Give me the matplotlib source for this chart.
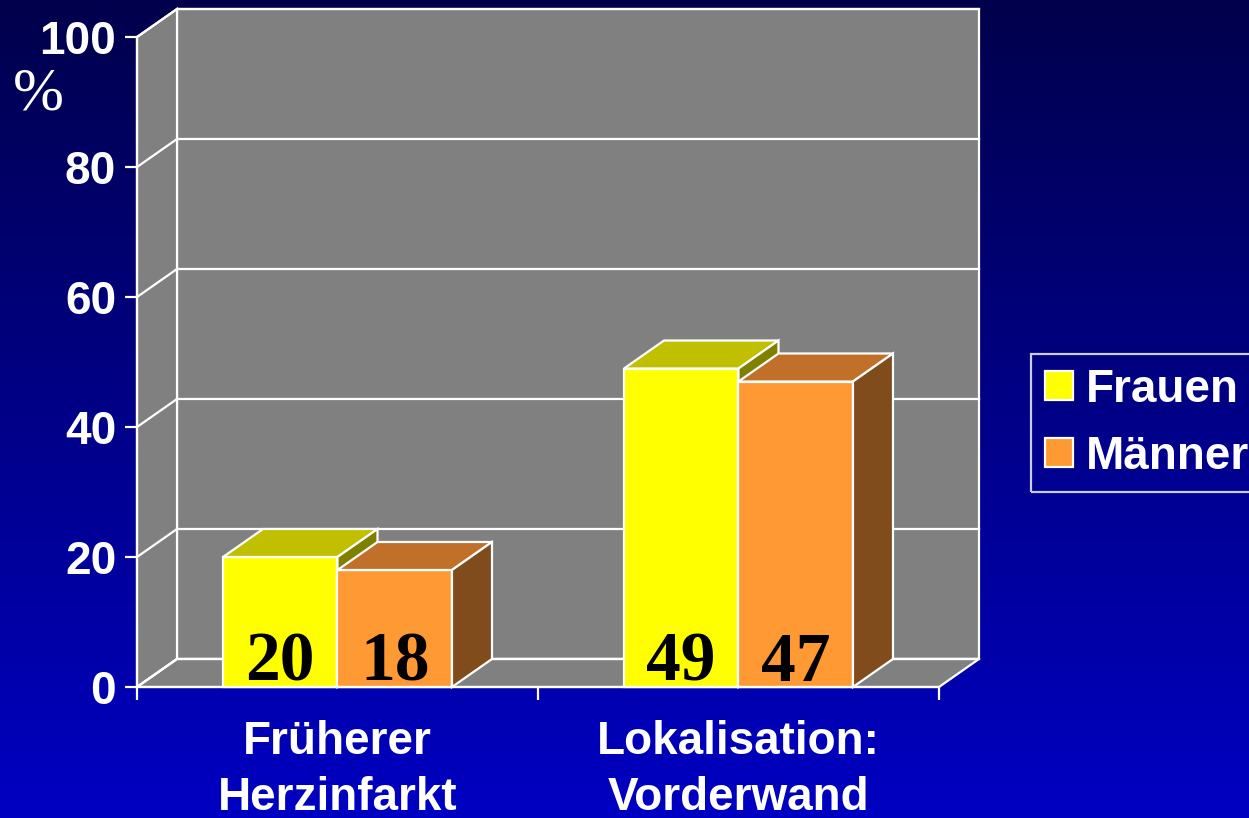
import numpy as np
import matplotlib
matplotlib.use("Agg")
import matplotlib.pyplot as plt
from matplotlib.patches import Polygon, Patch
from matplotlib.colors import LinearSegmentedColormap

plt.rcParams['font.family'] = ['Liberation Sans', 'DejaVu Sans']

# ---- data ----
categories = ["Früherer\nHerzinfarkt", "Lokalisation:\nVorderwand"]
series_names = ["Frauen", "Männer"]
frauen = [20, 49]
maenner = [18, 47]
yticks = [0, 20, 40, 60, 80, 100]

# ---- styling ----
W, H = 1249, 818
DX, DY = 0.0998, 4.31          # pseudo 3d depth in data units
BAR_W = 0.2855
face_cols = {"Frauen": ("#FFFF00", "#C0C000", "#808000"),
             "Männer": ("#FF9933", "#C07028", "#804C1C")}
WALL = "#808080"
LW = 1.6

fig = plt.figure(figsize=(W / 100, H / 100), dpi=100)

# background gradient
bg = fig.add_axes([0, 0, 1, 1])
bg.axis("off")
cmap = LinearSegmentedColormap.from_list("bgblue", ["#00004C", "#0000C2"])
bg.imshow(np.linspace(0, 1, 256)[:, None], aspect="auto", cmap=cmap,
          extent=[0, 1, 0, 1])

ax = fig.add_axes([137 / W, (H - 687) / H, (979 - 137) / W, (687 - 9) / H])
ax.set_facecolor("none")
ax.set_xlim(0, 2 + DX)
ax.set_ylim(0, 100 + DY)

ncat = len(categories)


def poly(pts, fc, z):
    ax.add_patch(Polygon(pts, closed=True, facecolor=fc, edgecolor="white",
                         lw=LW, zorder=z, clip_on=False, joinstyle="miter"))


# walls and floor
poly([(DX, DY), (ncat + DX, DY), (ncat + DX, 100 + DY), (DX, 100 + DY)], WALL, 0.5)
poly([(0, 0), (DX, DY), (DX, 100 + DY), (0, 100)], WALL, 0.5)
poly([(0, 0), (ncat, 0), (ncat + DX, DY), (DX, DY)], WALL, 0.5)
for v in yticks:
    ax.plot([0, DX, ncat + DX], [v, v + DY, v + DY], color="white", lw=LW,
            zorder=0.6, clip_on=False, solid_joinstyle="miter")


# bars
def bar3d(x0, h, name, z):
    front, top, side = face_cols[name]
    ax.bar(x0, h, width=BAR_W, align="edge", color=front, edgecolor="white",
           lw=LW, zorder=z, clip_on=False)
    poly([(x0, h), (x0 + BAR_W, h), (x0 + BAR_W + DX, h + DY), (x0 + DX, h + DY)], top, z)
    poly([(x0 + BAR_W, 0), (x0 + BAR_W + DX, DY), (x0 + BAR_W + DX, h + DY),
          (x0 + BAR_W, h)], side, z)


for i in range(ncat):
    c = i + 0.5
    bar3d(c - BAR_W, frauen[i], "Frauen", 2)
    bar3d(c, maenner[i], "Männer", 3)
    for x0, v in [(c - BAR_W, frauen[i]), (c, maenner[i])]:
        ax.text(x0 + BAR_W / 2, 1.0, str(v), ha="center", va="baseline",
                fontsize=50, fontweight="bold", family="Liberation Serif",
                color="black", zorder=5)

# axes
for s in ["top", "right"]:
    ax.spines[s].set_visible(False)
ax.spines["left"].set_bounds(0, 100)
ax.spines["bottom"].set_bounds(0, ncat)
for s in ["left", "bottom"]:
    ax.spines[s].set_color("white")
    ax.spines[s].set_linewidth(LW)
    ax.spines[s].set_zorder(4)

ax.set_yticks(yticks)
ax.set_yticklabels([str(v) for v in yticks], fontweight="bold")
ax.tick_params(axis="y", colors="white", length=9, width=LW, labelsize=33, pad=6)
ax.set_xticks(range(ncat + 1))
ax.set_xticklabels([""] * (ncat + 1))
ax.tick_params(axis="x", which="major", colors="white", length=9, width=LW)
ax.set_xticks([i + 0.5 for i in range(ncat)], minor=True)
ax.set_xticklabels(categories, minor=True, fontweight="bold", linespacing=1.35)
ax.tick_params(axis="x", which="minor", length=0, colors="white",
               labelsize=33, pad=24)

fig.text(38 / W, 1 - 95 / H, "%", family="Liberation Serif", fontsize=44,
         color="white", ha="center", va="center")

# legend (the reference clips it at the right edge too)
handles = [Patch(facecolor=face_cols[n][0], edgecolor="white", lw=LW, label=n)
           for n in series_names]
leg = fig.legend(handles=handles, loc="upper left",
                 bbox_to_anchor=(1031 / W, 1 - 354 / H), borderaxespad=0,
                 prop={"size": 33, "weight": "bold"}, frameon=True,
                 fancybox=False, handlelength=0.62, handleheight=0.62,
                 handletextpad=0.28, borderpad=0.3, labelspacing=0.5)
leg.get_frame().set_facecolor("none")
leg.get_frame().set_edgecolor("white")
leg.get_frame().set_linewidth(LW)
for t in leg.get_texts():
    t.set_color("white")

fig.savefig("out.png", dpi=100)
